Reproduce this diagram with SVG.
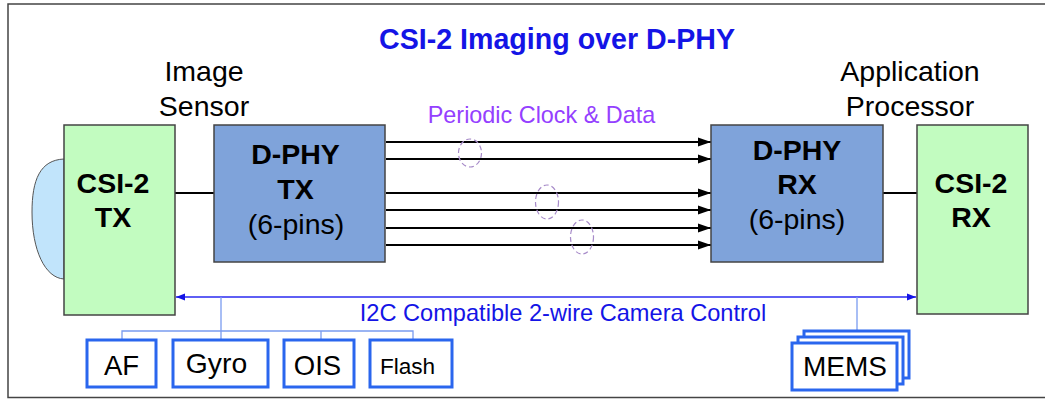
<svg xmlns="http://www.w3.org/2000/svg" width="1045" height="400" viewBox="0 0 1045 400">
<defs>
<marker id="ah" markerUnits="userSpaceOnUse" markerWidth="14" markerHeight="10" refX="13" refY="5" orient="auto"><path d="M0,0.5 L13,5 L0,9.5 Z" fill="#000"/></marker>
<marker id="bh" markerUnits="userSpaceOnUse" markerWidth="10" markerHeight="8" refX="9" refY="4" orient="auto-start-reverse"><path d="M0,0.5 L9,4 L0,7.5 Z" fill="#1414e6"/></marker>
</defs>
<style>
text{font-family:"Liberation Sans",Arial,sans-serif;text-anchor:middle;fill:#000}
.b{font-weight:bold}
.t{font-size:28.500px}
.g{fill:#c2fcc0;stroke:#444;stroke-width:1.5}
.p{fill:#7fa3da;stroke:#444;stroke-width:1.5}
.w{fill:#fff;stroke:#2a66ee;stroke-width:3}
.l{fill:none;stroke:#000;stroke-width:2}
.a{fill:none;stroke:#000;stroke-width:2.200;marker-end:url(#ah)}
.c{fill:none;stroke:#7a9cf0;stroke-width:1.3}
.e{fill:none;stroke:#a78bc9;stroke-width:1.2;stroke-dasharray:5 3}
</style>
<rect id="frame" x="8" y="4" width="1045" height="393.500" fill="#fff" stroke="#444" stroke-width="1.500"/>
<text x="557" y="49" font-size="28.600" class="b" style="fill:#1414e6">CSI-2 Imaging over D-PHY</text>
<text x="204" y="81" class="t">Image</text>
<text x="204" y="116" class="t">Sensor</text>
<text x="910" y="81" class="t">Application</text>
<text x="910" y="116" class="t">Processor</text>
<text x="541.500" y="123" font-size="23.400" style="fill:#9440ff">Periodic Clock &amp; Data</text>
<text x="563" y="321" font-size="23.600" style="fill:#1414e6">I2C Compatible 2-wire Camera Control</text>
<g id="connectors">
<path class="l" d="M175,193H214M883,193H918"/>
<path class="a" d="M386,142H711"/>
<path class="a" d="M386,159H711"/>
<path class="a" d="M386,193H711"/>
<path class="a" d="M386,210H711"/>
<path class="a" d="M386,228H711"/>
<path class="a" d="M386,245H711"/>
<path d="M176,297H916" fill="none" stroke="#2a2af0" stroke-width="1.500" marker-start="url(#bh)" marker-end="url(#bh)"/>
<path class="c" d="M221,297V339M122,339V331H413V339M321,331V339M857,297V330"/>
<ellipse class="e" cx="470" cy="153" rx="11.500" ry="14"/>
<ellipse class="e" cx="547" cy="202" rx="11.500" ry="17"/>
<ellipse class="e" cx="582" cy="237" rx="11.500" ry="17"/>
</g>
<g id="sensor-lens"><path d="M64,159C40,160 32,180 32,212C32,250 45,278 64,279Z" fill="#c1e4fb" stroke="#555" stroke-width="1"/></g>
<g id="csi-tx"><rect class="g" x="64" y="125" width="111" height="190"/><text class="b t" x="113" y="193">CSI-2</text><text class="b t" x="113" y="227">TX</text></g>
<g id="dphy-tx"><rect class="p" x="214" y="125" width="171" height="137"/><text class="b t" x="295.500" y="164">D-PHY</text><text class="b t" x="295.500" y="199">TX</text><text class="t" x="296" y="234">(6-pins)</text></g>
<g id="dphy-rx"><rect class="p" x="711" y="125" width="172" height="137"/><text class="b t" x="797" y="160">D-PHY</text><text class="b t" x="797" y="194">RX</text><text class="t" x="797" y="229">(6-pins)</text></g>
<g id="csi-rx"><rect class="g" x="917" y="125" width="111" height="189"/><text class="b t" x="971" y="193">CSI-2</text><text class="b t" x="971" y="227">RX</text></g>
<g id="af"><rect class="w" x="87" y="340" width="69" height="47"/><text x="121.500" y="375" font-size="27.500">AF</text></g>
<g id="gyro"><rect class="w" x="173" y="340" width="95" height="47"/><text x="216.500" y="373" font-size="28.300">Gyro</text></g>
<g id="ois"><rect class="w" x="284" y="340" width="70" height="47"/><text x="317.500" y="375" font-size="27.500">OIS</text></g>
<g id="flash"><rect class="w" x="370" y="340" width="82" height="47"/><text x="407.500" y="374" font-size="22.600">Flash</text></g>
<g id="mems"><rect class="w" x="804" y="331" width="105" height="47"/><rect class="w" x="798" y="337" width="105" height="47"/><rect class="w" x="792" y="343" width="105" height="47"/><text x="845" y="376" font-size="28">MEMS</text></g>
</svg>
